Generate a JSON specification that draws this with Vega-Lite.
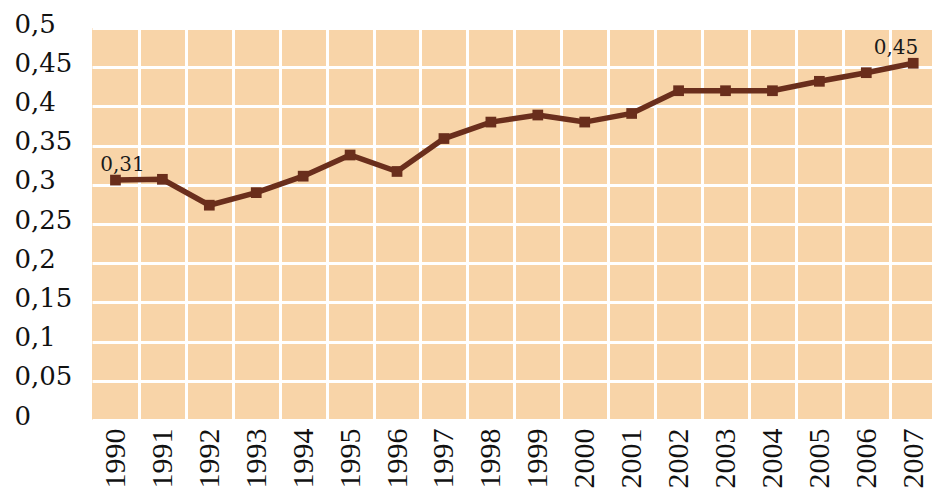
{
  "$schema": "https://vega.github.io/schema/vega-lite/v6.json",
  "width": 840,
  "height": 392,
  "autosize": "none",
  "padding": {"left": 92, "top": 28, "right": 0, "bottom": 68},
  "background": "white",
  "config": {
    "view": {"fill": "#F8D4A8", "stroke": null},
    "axis": {"domain": false, "ticks": false}
  },
  "data": {
    "values": [
      {"year": 1990, "value": 0.306, "label": "0,31"},
      {"year": 1991, "value": 0.307},
      {"year": 1992, "value": 0.274},
      {"year": 1993, "value": 0.290},
      {"year": 1994, "value": 0.311},
      {"year": 1995, "value": 0.338},
      {"year": 1996, "value": 0.317},
      {"year": 1997, "value": 0.359},
      {"year": 1998, "value": 0.380},
      {"year": 1999, "value": 0.389},
      {"year": 2000, "value": 0.380},
      {"year": 2001, "value": 0.391},
      {"year": 2002, "value": 0.420},
      {"year": 2003, "value": 0.420},
      {"year": 2004, "value": 0.420},
      {"year": 2005, "value": 0.432},
      {"year": 2006, "value": 0.443},
      {"year": 2007, "value": 0.455, "label": "0,45"}
    ]
  },
  "encoding": {
    "y": {
      "field": "value", "type": "quantitative",
      "scale": {"domain": [0, 0.5], "nice": false},
      "axis": {
        "title": null,
        "values": [0, 0.05, 0.1, 0.15, 0.2, 0.25, 0.3, 0.35, 0.4, 0.45, 0.5],
        "grid": true, "gridColor": "white", "gridWidth": 3, "gridOpacity": 1,
        "labelExpr": "replace(format(datum.value, '.2~f'), '.', ',')",
        "labelAlign": "left", "labelPadding": 78, "labelOffset": -4,
        "labelFont": "DejaVu Serif", "labelFontSize": 26, "labelColor": "#111111",
        "labelFontWeight": "normal", "labelOverlap": false, "labelFlush": false
      }
    }
  },
  "resolve": {"axis": {"x": "independent"}},
  "layer": [
    {
      "mark": {"type": "point", "opacity": 0},
      "encoding": {
        "x": {
          "field": "year", "type": "quantitative",
          "scale": {"domain": [1989.5, 2007.4], "nice": false, "zero": false},
          "axis": {
            "orient": "top", "title": null, "labels": false,
            "values": [1990.5, 1991.5, 1992.5, 1993.5, 1994.5, 1995.5, 1996.5, 1997.5, 1998.5, 1999.5, 2000.5, 2001.5, 2002.5, 2003.5, 2004.5, 2005.5, 2006.5],
            "grid": true, "gridColor": "white", "gridWidth": 3, "gridOpacity": 1
          }
        }
      }
    },
    {
      "mark": {"type": "line", "color": "#6A2E1C", "strokeWidth": 5.5, "strokeJoin": "miter"},
      "encoding": {
        "x": {
          "field": "year", "type": "quantitative",
          "axis": {
            "orient": "bottom", "title": null, "grid": false,
            "values": [1990, 1991, 1992, 1993, 1994, 1995, 1996, 1997, 1998, 1999, 2000, 2001, 2002, 2003, 2004, 2005, 2006, 2007],
            "format": "d", "labelAngle": -90, "labelAlign": "right", "labelBaseline": "middle",
            "labelPadding": 8, "labelFont": "Liberation Serif", "labelFontSize": 30,
            "labelColor": "#111111", "labelFlush": false, "labelOverlap": false
          }
        }
      }
    },
    {
      "mark": {"type": "point", "shape": "square", "filled": true, "size": 115, "color": "#6A2E1C", "opacity": 1},
      "encoding": {
        "x": {"field": "year", "type": "quantitative", "axis": null}
      }
    },
    {
      "transform": [{"filter": "datum.year == 1990"}],
      "mark": {"type": "text", "align": "center", "baseline": "alphabetic", "dx": 7, "dy": -9, "font": "DejaVu Serif", "fontSize": 20, "color": "#1a1a1a"},
      "encoding": {
        "x": {"field": "year", "type": "quantitative", "axis": null},
        "text": {"field": "label"}
      }
    },
    {
      "transform": [{"filter": "datum.year == 2007"}],
      "mark": {"type": "text", "align": "right", "baseline": "alphabetic", "dx": 5, "dy": -9, "font": "DejaVu Serif", "fontSize": 20, "color": "#1a1a1a"},
      "encoding": {
        "x": {"field": "year", "type": "quantitative", "axis": null},
        "text": {"field": "label"}
      }
    }
  ]
}
